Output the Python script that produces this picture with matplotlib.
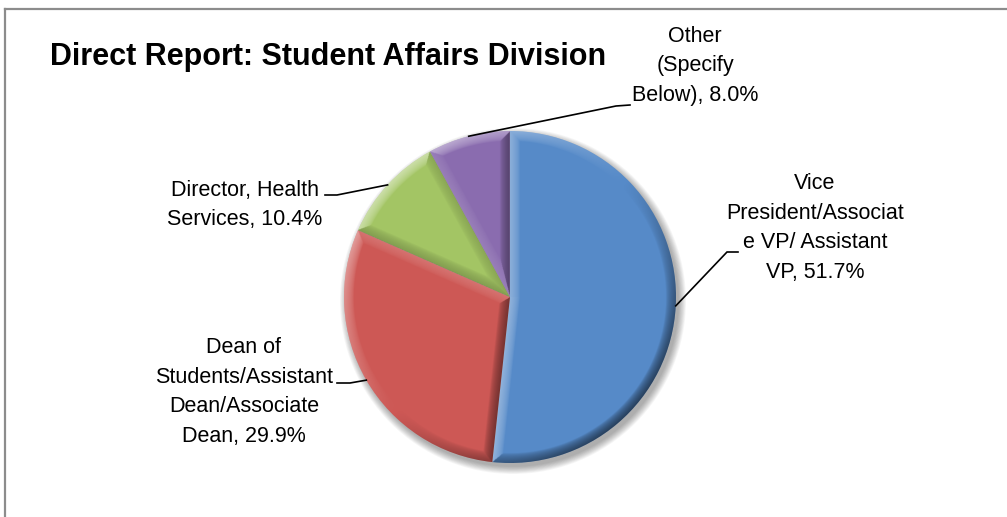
import matplotlib
matplotlib.use("Agg")
import matplotlib.pyplot as plt
import numpy as np
from matplotlib.patches import Circle
from matplotlib.lines import Line2D

# ---------------- data ----------------
categories = ["Vice\nPresident/Associat\ne VP/ Assistant\nVP",
              "Dean of\nStudents/Assistant\nDean/Associate\nDean",
              "Director, Health\nServices",
              "Other\n(Specify\nBelow)"]
values = [51.7, 29.9, 10.4, 8.0]
colors = ["#568AC8", "#CD5855", "#A3C564", "#8A6CAF"]
title = "Direct Report: Student Affairs Division"

# ---------------- layout (pixel space, y measured from top) ----------------
W, H = 1007, 517
FONT = "Liberation Sans"
cx, cy, R = 510, H - 297, 166
label_pos = [(815, 228), (244, 392), (245, 205), (695, 66)]      # text block centres
leader_elbow = [(727, 252), (350, 383), (337, 195), (616, 106)]  # where the line bends
leader_end = [(738, 252), (337, 383), (325, 195), (630, 105)]    # end next to the text

fig = plt.figure(figsize=(W / 100, H / 100), dpi=100)
ax = fig.add_axes([0, 0, 1, 1])

# soft drop shadow
for k in range(10):
    ax.add_patch(Circle((cx + 3, cy - 4), R + 7 - k * 0.8, color="black",
                        alpha=0.035, lw=0, zorder=1))

wedges, _ = ax.pie(values, colors=colors, startangle=90, counterclock=False,
                   center=(cx, cy), radius=R,
                   wedgeprops=dict(linewidth=0, zorder=2))

# ---------------- bevel shading ----------------
bw = 10.0
Ldir = np.deg2rad(135)
step = 0.5
x0, x1, y0, y1 = cx - R - 2, cx + R + 2, cy - R - 2, cy + R + 2
xs = np.arange(x0, x1, step) + step / 2
ys = np.arange(y0, y1, step) + step / 2
X, Y = np.meshgrid(xs, ys)
dx, dy = X - cx, Y - cy
r = np.hypot(dx, dy)
phi = np.degrees(np.arctan2(dy, dx))

for w in wedges:
    t1, t2 = w.theta1, w.theta2
    span = t2 - t1
    rel = np.mod(phi - t1, 360.0)
    rel2 = span - rel
    d_arc = R - r
    a1 = np.deg2rad(np.clip(rel, 0, 90))
    a2 = np.deg2rad(np.clip(rel2, 0, 90))
    d1 = r * np.sin(a1)
    d2 = r * np.sin(a2)
    D = np.stack([d_arc, d1, d2])
    idx = np.argmin(D, axis=0)
    d = np.min(D, axis=0)
    nang = np.where(idx == 0, np.deg2rad(phi),
                    np.where(idx == 1, np.deg2rad(t1 - 90), np.deg2rad(t2 + 90)))
    s = np.cos(nang - Ldir)
    prof = np.clip(1 - d / bw, 0, 1) ** 0.6
    alpha = np.where(s >= 0, 0.45 * s, 0.55 * (-s)) * prof
    img = np.zeros(X.shape + (4,))
    img[..., :3] = np.where((s >= 0)[..., None], 1.0, 0.0)
    img[..., 3] = np.clip(alpha, 0, 1)
    im = ax.imshow(img, extent=(x0, x1, y0, y1), origin="lower",
                   interpolation="bilinear", zorder=3)
    im.set_clip_path(w)

# ---------------- leader lines and labels ----------------
for w, cat, v, (lx, ly), (ex, ey), (tx, ty) in zip(
        wedges, categories, values, label_pos, leader_elbow, leader_end):
    mid = np.deg2rad((w.theta1 + w.theta2) / 2)
    px, py = cx + R * np.cos(mid), cy + R * np.sin(mid)
    ax.plot([px, ex, tx], [py, H - ey, H - ty], color="black", lw=1.2,
            zorder=4, solid_joinstyle="miter")
    ax.text(lx, H - ly, f"{cat}, {v:.1f}%", ha="center", va="center",
            multialignment="center", fontsize=15.5, family=FONT,
            linespacing=1.55, color="black", zorder=5)

ax.text(50, H - 65, title, ha="left", va="baseline", fontsize=22,
        fontweight="bold", family=FONT, color="black")

ax.set_xlim(0, W)
ax.set_ylim(0, H)
ax.set_aspect("equal")
ax.axis("off")

# chart frame (top and left edges visible)
fig.add_artist(Line2D([5 / W, 1], [1 - 9 / H, 1 - 9 / H], transform=fig.transFigure,
                      color="#8C8C8C", lw=1.6))
fig.add_artist(Line2D([5 / W, 5 / W], [0, 1 - 9 / H], transform=fig.transFigure,
                      color="#8C8C8C", lw=1.6))

fig.savefig("out.png", dpi=100, facecolor="white")
